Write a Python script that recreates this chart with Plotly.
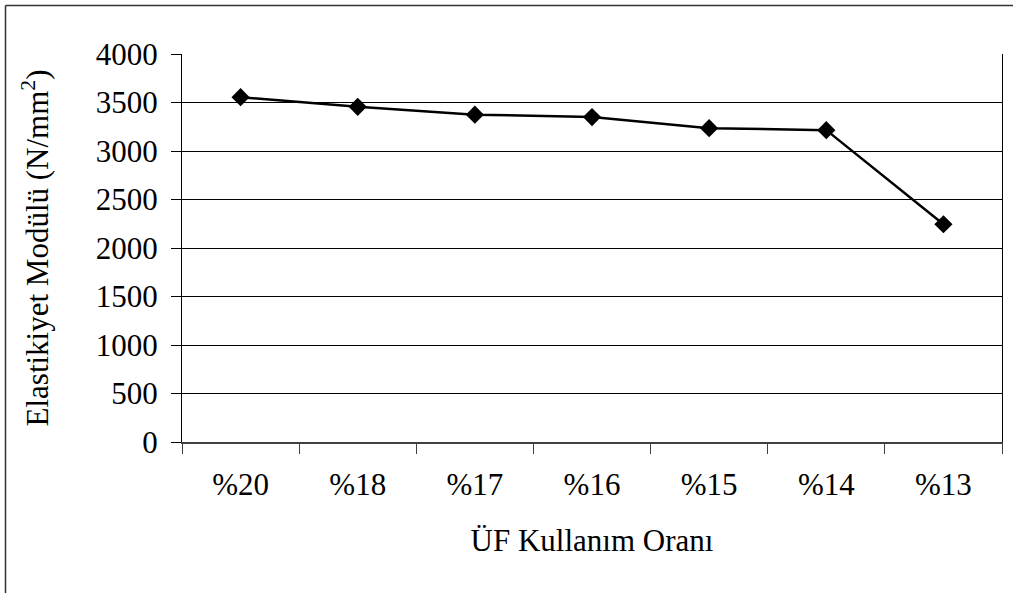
import plotly.graph_objects as go

categories = ["%20", "%18", "%17", "%16", "%15", "%14", "%13"]
modulus = [3555, 3455, 3375, 3350, 3235, 3215, 2245]
y_ticks = [0, 500, 1000, 1500, 2000, 2500, 3000, 3500, 4000]

FONT = "Liberation Serif"

fig = go.Figure()
fig.add_trace(go.Scatter(
    x=categories, y=modulus, mode="lines+markers",
    line=dict(color="black", width=2.5),
    marker=dict(symbol="diamond", size=14, color="black"),
    showlegend=False,
))

W, H = 1013, 593
ml, mr, mt, mb = 182, 11, 54, 151
pw, ph = W - ml - mr, H - mt - mb

fig.update_layout(
    width=W, height=H,
    margin=dict(l=ml, r=mr, t=mt, b=mb),
    paper_bgcolor="white", plot_bgcolor="white",
    font=dict(family=FONT, size=31, color="black"),
    xaxis=dict(
        type="category", range=[-0.5, 6.5],
        showgrid=False, showline=True, linecolor="#404040", linewidth=1.5,
        ticks="outside", tickson="boundaries", ticklen=10, tickcolor="#404040", tickwidth=1,
        tickfont=dict(family=FONT, size=31), ticklabelstandoff=14,
        title=dict(text="ÜF Kullanım Oranı", font=dict(family=FONT, size=31), standoff=28),
    ),
    yaxis=dict(
        range=[0, 4000], tickvals=y_ticks,
        showgrid=True, gridcolor="black", gridwidth=1,
        showline=True, linecolor="black", linewidth=1, mirror=True,
        ticks="outside", ticklen=10, tickcolor="black", tickwidth=1,
        tickfont=dict(family=FONT, size=31), ticklabelstandoff=7,
        zeroline=False,
        title=dict(text="Elastikiyet Modülü (N/mm<sup>2</sup>)", font=dict(family=FONT, size=31), standoff=37),
    ),
)

# outer chart border: only top and left edges fall inside the picture
fig.add_shape(type="line", xref="paper", yref="paper",
              x0=(5.5 - ml) / pw, x1=(W - ml) / pw,
              y0=(H - 5.5 - mb) / ph, y1=(H - 5.5 - mb) / ph,
              line=dict(color="#333333", width=1.5))
fig.add_shape(type="line", xref="paper", yref="paper",
              x0=(5.5 - ml) / pw, x1=(5.5 - ml) / pw,
              y0=(H - 5.5 - mb) / ph, y1=(0 - mb) / ph,
              line=dict(color="#333333", width=1.5))

fig.write_html("out.html")
